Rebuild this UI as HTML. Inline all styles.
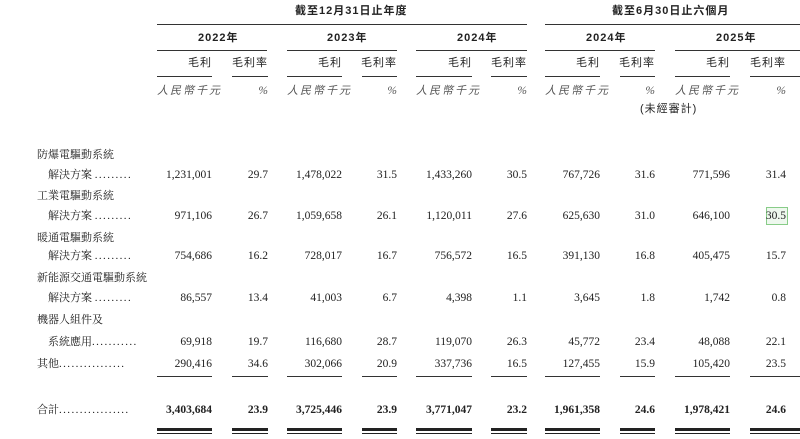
<!DOCTYPE html>
<html><head><meta charset="utf-8"><style>
body{margin:0;width:800px;height:439px;background:#fff;overflow:hidden;position:relative;font-family:"Liberation Serif","Noto Serif CJK SC",serif;color:#222;font-size:11.5px}
.a{position:absolute;white-space:nowrap;line-height:14px}
.r{position:absolute;white-space:nowrap;line-height:14px;text-align:right}
.l{position:absolute;height:1.3px;background:#333}
.b{font-weight:bold}
.i{font-style:italic;color:#555}
.c{font-family:"Liberation Sans","Noto Sans CJK TC",sans-serif;font-size:11px;letter-spacing:1px}
.lb{font-family:"Liberation Serif","Noto Serif CJK SC",serif;font-size:11px;letter-spacing:0px}
.d{letter-spacing:1.4px;font-size:11px}
</style></head><body>
<div class="a b c" style="left:295px;top:4px">截至12月31日止年度</div>
<div class="a b c" style="left:612px;top:4px">截至6月30日止六個月</div>
<div class="l" style="left:157px;top:24px;width:370px"></div>
<div class="l" style="left:545px;top:24px;width:255px"></div>
<div class="a b c" style="left:198px;top:31px">2022年</div>
<div class="a b c" style="left:327px;top:31px">2023年</div>
<div class="a b c" style="left:457px;top:31px">2024年</div>
<div class="a b c" style="left:586px;top:31px">2024年</div>
<div class="a b c" style="left:716px;top:31px">2025年</div>
<div class="l" style="left:157px;top:50px;width:110px"></div>
<div class="l" style="left:287px;top:50px;width:110px"></div>
<div class="l" style="left:416px;top:50px;width:111px"></div>
<div class="l" style="left:545px;top:50px;width:110px"></div>
<div class="l" style="left:675px;top:50px;width:125px"></div>
<div id="hdr"></div>
<script>
const cols=[[157,212,232,268],[287,342,362,397],[416,472,491,527],[545,600,620,655],[675,730,750,786]];
let h='';
cols.forEach(c=>{
 h+=`<div class="r c" style="right:${800-c[1]}px;top:56px">毛利</div>`;
 h+=`<div class="r c" style="right:${800-c[3]}px;top:56px">毛利率</div>`;
 h+=`<div class="l" style="left:${c[0]}px;top:76px;width:${c[1]-c[0]}px"></div>`;
 h+=`<div class="l" style="left:${c[2]}px;top:76px;width:${c[3]-c[2]+ (c[3]>780?14:0)}px"></div>`;
 h+=`<div class="a i c" style="left:${c[0]}px;top:84px;letter-spacing:2px">人民幣千元</div>`;
 h+=`<div class="r i" style="right:${800-c[3]}px;top:84px">%</div>`;
});
h+=`<div class="a c" style="left:640px;top:102px">(未經審計)</div>`;
const D=n=>`<span class="d">${'.'.repeat(n)}</span>`;
const labels=[["防爆電驅動系統",148],["　解決方案 "+D(9),168],["工業電驅動系統",189],["　解決方案 "+D(9),209],["暖通電驅動系統",231],["　解決方案 "+D(9),249],["新能源交通電驅動系統",271],["　解決方案 "+D(9),291],["機器人組件及",313],["　系統應用"+D(11),335],["其他"+D(16),357]];
labels.forEach(([t,y])=>h+=`<div class="a lb" style="left:37px;top:${y}px">${t}</div>`);
const rows=[[168,["1,231,001","29.7","1,478,022","31.5","1,433,260","30.5","767,726","31.6","771,596","31.4"]],
[209,["971,106","26.7","1,059,658","26.1","1,120,011","27.6","625,630","31.0","646,100","30.5"]],
[249,["754,686","16.2","728,017","16.7","756,572","16.5","391,130","16.8","405,475","15.7"]],
[291,["86,557","13.4","41,003","6.7","4,398","1.1","3,645","1.8","1,742","0.8"]],
[335,["69,918","19.7","116,680","28.7","119,070","26.3","45,772","23.4","48,088","22.1"]],
[357,["290,416","34.6","302,066","20.9","337,736","16.5","127,455","15.9","105,420","23.5"]]];
rows.forEach(([y,v])=>v.forEach((t,k)=>{const c=cols[k>>1];const x=k%2?c[3]:c[1];h+=`<div class="r" style="right:${800-x}px;top:${y}px">${t}</div>`;}));
h+=`<div style="position:absolute;left:766px;top:207px;width:20px;height:16px;border:1px solid #8c8;background:#eef8ee"></div><div class="r" style="right:14px;top:209px">30.5</div>`;
cols.forEach(c=>{h+=`<div class="l" style="left:${c[0]}px;top:376px;width:${c[1]-c[0]}px"></div><div class="l" style="left:${c[2]}px;top:376px;width:${c[3]-c[2]+(c[3]>780?14:0)}px"></div>`;});
h+=`<div class="a lb" style="left:37px;top:403px">合計${D(17)}</div>`;
const tot=["3,403,684","23.9","3,725,446","23.9","3,771,047","23.2","1,961,358","24.6","1,978,421","24.6"];
tot.forEach((t,k)=>{const c=cols[k>>1];const x=k%2?c[3]:c[1];h+=`<div class="r b" style="right:${800-x}px;top:403px">${t}</div>`;});
cols.forEach(c=>{[[c[0],c[1]],[c[2],c[3]+(c[3]>780?14:0)]].forEach(([a,b])=>{h+=`<div style="position:absolute;left:${a}px;top:428px;width:${b-a}px;height:3px;background:#222"></div><div style="position:absolute;left:${a}px;top:433px;width:${b-a}px;height:1.3px;background:#222"></div>`;});});
document.getElementById('hdr').outerHTML=h;
</script>
</body></html>
